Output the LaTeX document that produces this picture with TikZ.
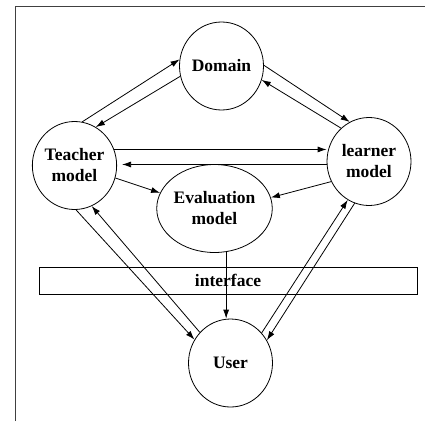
\documentclass[tikz,border=0pt]{standalone}
\usepackage{fontspec}
\setmainfont{Liberation Serif}
\usetikzlibrary{arrows.meta,positioning,calc,shapes.geometric}
\definecolor{frameGray}{RGB}{64,64,64}
\tikzset{
  model node/.style={ellipse,draw,line width=0.8pt,inner sep=0pt,minimum width=84pt,minimum height=88pt,align=center,font=\fontsize{17.5}{21}\selectfont\bfseries},
  bar node/.style={rectangle,draw,line width=0.8pt,minimum width=378pt,minimum height=27pt,font=\fontsize{17.5}{21}\selectfont\bfseries},
  flow arrow/.style={-{Latex[length=9pt,width=6pt]},line width=0.8pt}
}
\begin{document}
\begin{tikzpicture}[x=1pt,y=-1pt]
  \useasboundingbox (0,0) rectangle (425,421);
  \draw[frameGray,line width=1.5pt] (15.5,421) -- (15.5,6.5) -- (425,6.5);
  \node[model node] (domain) at (221.5,66) {Domain};
  \node[model node] (teacher) at (74.5,165.5) {Teacher\\model};
  \node[model node] (learner) at (369,161.5) {learner\\model};
  \node[model node] (evaluation) at (214.5,208.5) {Evaluation\\model};
  \node[model node] (user) at (230.5,363) {User};
  \node[bar node] (interface) at (228,280.5) {interface};
  % upper half
  \draw[flow arrow] (teacher.80) -- (domain.171);
  \draw[flow arrow] (domain.194) -- (teacher.61);
  \draw[flow arrow] (domain.1) -- (learner.116);
  \draw[flow arrow] (learner.130) -- (domain.-19);
  \draw[flow arrow] (teacher.22) -- (teacher.22 -| learner.west);
  \draw[flow arrow] (learner.184) -- ($(learner.184 -| teacher.east)+(5,0)$);
  \draw[flow arrow] (teacher.-17) -- (evaluation.164);
  \draw[flow arrow] (learner.208) -- (evaluation.11);
  % lower half
  \draw[flow arrow] (evaluation.-75) -- (evaluation.-75 |- user.north);
  \draw[flow arrow] (teacher.-88) -- (user.147);
  \draw[flow arrow] (user.135) -- (teacher.-67);
  \draw[flow arrow] (learner.251) -- (user.32);
  \draw[flow arrow] (user.44) -- (learner.241);
\end{tikzpicture}
\end{document}
